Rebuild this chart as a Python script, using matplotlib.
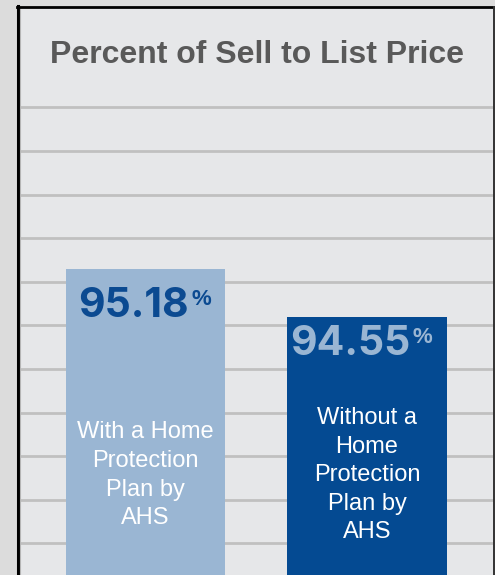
import numpy as np
import matplotlib
matplotlib.use("Agg")
import matplotlib.pyplot as plt
from matplotlib.lines import Line2D

# data
categories = ["With a Home\nProtection\nPlan by\nAHS",
              "Without a\nHome\nProtection\nPlan by\nAHS"]
values = [95.18, 94.55]
title = "Percent of Sell to List Price"

bar_colors = ["#9ab6d3", "#044a92"]
value_colors = ["#0b4a91", "#9ab6d3"]
value_pad = [48, 38]   # px from bar top to number baseline

W, H = 495, 575
plt.rcParams['font.family'] = ['Liberation Sans', 'DejaVu Sans']

fig = plt.figure(figsize=(W / 100, H / 100), dpi=100)
fig.patch.set_facecolor("#dcdcdc")

ax = fig.add_axes([20 / W, 0, (493 - 20) / W, (H - 8) / H])
ax.set_facecolor("#e6e7e9")
for s in ax.spines.values():
    s.set_visible(False)

x = np.arange(len(values))
ax.set_xlim(-0.567, 1.569)
ax.set_ylim(91.138, 98.628)

# decorative grid lines
ax.set_yticks(np.arange(97.316, 91.1, -0.576))
ax.set_xticks([])
ax.tick_params(axis='y', length=0, labelleft=False)
ax.yaxis.grid(True, color="#c0c0c0", linewidth=2.0)
ax.set_axisbelow(True)

ax.bar(x, values, width=0.72, color=bar_colors, zorder=2)

for i, v in enumerate(values):
    ax.annotate(f"{v:.2f}", xy=(x[i], v), xytext=(43, -value_pad[i]),
                textcoords="offset pixels", ha="right", va="baseline",
                fontsize=29.5, fontweight="bold", family=["Inter", "Liberation Sans"],
                color=value_colors[i], zorder=3)
    ax.annotate("%", xy=(x[i], v), xytext=(46, -value_pad[i] + 12),
                textcoords="offset pixels", ha="left", va="baseline",
                fontsize=16, fontweight="bold", color=value_colors[i], zorder=3)
    ax.text(x[i], 0.176, categories[i], transform=ax.get_xaxis_transform(),
            ha="center", va="center", fontsize=17, color="white",
            linespacing=1.39, zorder=3)

ax.text(0.5, 0.903, title, transform=ax.transAxes, ha="center", va="baseline",
        fontsize=23, fontweight="bold", color="#595959")

# frame lines
fig.add_artist(Line2D([18 / W, 18 / W], [0, (H - 6) / H], color="black",
                      linewidth=2.2, transform=fig.transFigure))
fig.add_artist(Line2D([19.8 / W, 19.8 / W], [0, (H - 8) / H], color="#b5b5b5",
                      linewidth=0.8, transform=fig.transFigure))
fig.add_artist(Line2D([16.5 / W, 1], [(H - 7) / H, (H - 7) / H], color="black",
                      linewidth=2.0, transform=fig.transFigure))
fig.add_artist(Line2D([494 / W, 494 / W], [0, (H - 7) / H], color="#333333",
                      linewidth=1.4, transform=fig.transFigure))

fig.savefig("out.png", dpi=100, facecolor=fig.get_facecolor())
